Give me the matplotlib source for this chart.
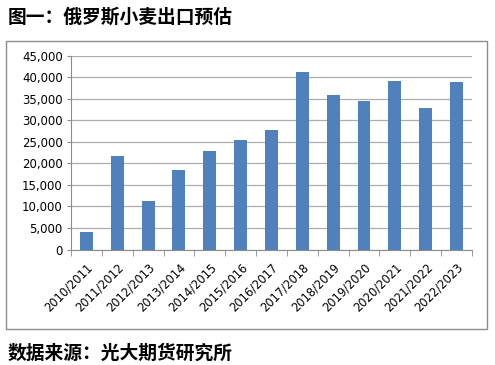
import matplotlib.pyplot as plt
from matplotlib.patches import Rectangle
from matplotlib.ticker import FuncFormatter

plt.rcParams['font.family'] = ['Noto Sans CJK SC', 'DejaVu Sans']

# data
seasons = ['2010/2011', '2011/2012', '2012/2013', '2013/2014', '2014/2015',
           '2015/2016', '2016/2017', '2017/2018', '2018/2019', '2019/2020',
           '2020/2021', '2021/2022', '2022/2023']
exports = [4000, 21600, 11300, 18500, 22800, 25500, 27800,
           41300, 35800, 34500, 39100, 32900, 39000]
y_ticks = list(range(0, 45001, 5000))

title_text = '图一：俄罗斯小麦出口预估'
source_text = '数据来源：光大期货研究所'

fig = plt.figure(figsize=(4.95, 3.65), dpi=100)

# outer grey frame around the chart
fig.patches.append(Rectangle((0.0121, 0.0986), 0.971, 0.789, transform=fig.transFigure,
                             fill=False, edgecolor='#8c8c8c', linewidth=1.0))

ax = fig.add_axes([0.1434, 0.3164, 0.8101, 0.531])
x = list(range(len(seasons)))
ax.bar(x, exports, width=0.42, color='#4f81bd', zorder=3)

ax.set_ylim(0, 45000)
ax.set_xlim(-0.5, len(seasons) - 0.5)
ax.set_yticks(y_ticks)
ax.yaxis.set_major_formatter(FuncFormatter(lambda v, p: f'{int(v):,}'))
ax.grid(axis='y', color='#adadad', linewidth=0.9, zorder=0)

ax.set_xticks(x)
ax.set_xticklabels(seasons, rotation=45, ha='right', rotation_mode='anchor',
                   family='DejaVu Sans', fontsize=8.3)
ax.set_xticks([i - 0.5 for i in range(len(seasons) + 1)], minor=True)
ax.tick_params(axis='x', which='major', length=0, pad=8)
ax.tick_params(axis='x', which='minor', length=4, color='#8c8c8c')
ax.tick_params(axis='y', length=3, color='#8c8c8c', labelsize=8.5, pad=3)
for lab in ax.get_yticklabels():
    lab.set_family('DejaVu Sans')

for s in ['top', 'right']:
    ax.spines[s].set_visible(False)
for s in ['left', 'bottom']:
    ax.spines[s].set_color('#8c8c8c')

fig.text(0.016, 0.953, title_text, fontsize=13.5, fontweight='bold', va='center', ha='left')
fig.text(0.016, 0.033, source_text, fontsize=13.5, fontweight='bold', va='center', ha='left')

fig.savefig('out.png', dpi=100)
